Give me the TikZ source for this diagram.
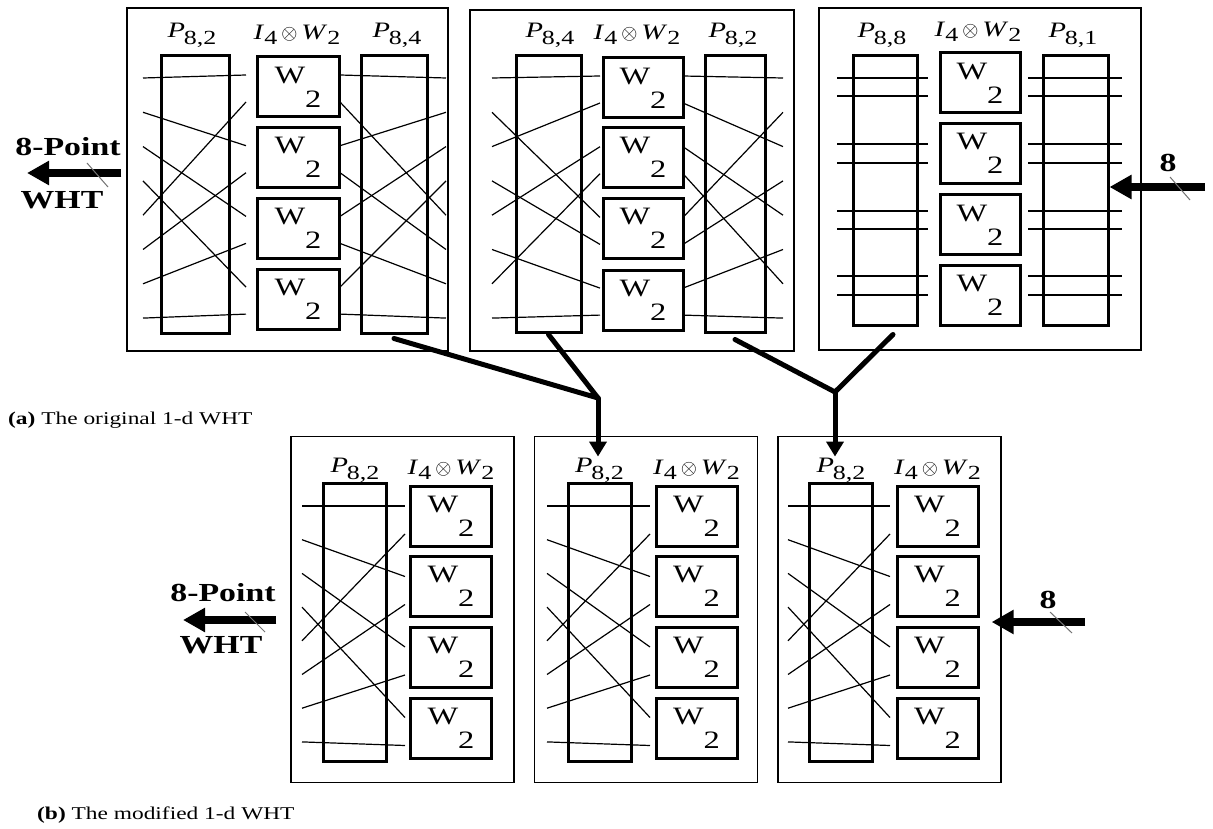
\documentclass[tikz,border=0pt]{standalone}
\usepackage{fontspec}
\setmainfont{Liberation Serif}[FakeStretch=1.3]
\usepackage{tikz}
\usetikzlibrary{arrows.meta,calc}

\newcommand{\Plab}[1]{\textit{P}\kern-1pt\raisebox{-7pt}{\fontsize{20}{20}\selectfont #1}}
\newcommand{\IWlab}{\textit{I}\raisebox{-5pt}{\fontsize{20}{20}\selectfont 4}\kern4pt$\otimes$\kern4pt\textit{W}\raisebox{-5pt}{\fontsize{20}{20}\selectfont 2}}
\newcommand{\Wtwo}{W\raisebox{-24pt}{2}}
\def\mapA{0/0,1/2,2/4,3/6,4/1,5/3,6/5,7/7}
\def\mapB{0/0,1/4,2/1,3/5,4/2,5/6,6/3,7/7}

\tikzset{
  frame/.style={draw, line width=1.3pt, inner sep=0pt},
  permbox/.style={draw, line width=3pt, minimum width=64pt, minimum height=277pt, inner sep=0pt},
  wbox/.style={draw, line width=3pt, minimum width=81pt, minimum height=60pt, inner sep=0pt, font=\fontsize{25}{25}\selectfont},
  lab/.style={inner sep=1pt, font=\fontsize{22}{22}\selectfont},
  wire/.style={line width=1.2pt},
  bus/.style={line width=5pt, line cap=round, line join=round},
  io/.style={line width=7.5pt, -{Triangle[length=22pt,width=23pt]}},
  tick/.style={line width=1pt, black!55},
  bigtxt/.style={inner sep=0pt, font=\fontsize{26}{26}\selectfont\bfseries},
  captxt/.style={inner sep=0pt, font=\fontsize{18}{18}\selectfont},
}

\begin{document}
\begin{tikzpicture}[x=1pt, y=-1pt]
\useasboundingbox (0,0) rectangle (1213,829);

% (a) first stage
\node[frame, minimum width=321pt, minimum height=343pt] (pa) at (287.5,179.5) {};
\node[lab] (pal1) at (192,35) {\Plab{8,2}};
\node[lab] (pal2) at (297,35) {\IWlab};
\node[lab] (pal3) at (397,35) {\Plab{8,4}};
\node[permbox, minimum width=68pt] (pa1) at (195,194.5) {};
\node[permbox, minimum width=66pt] (pa2) at (394,194.5) {};
\foreach \k/\y in {1/87,2/157.5,3/228.5,4/299}
  \node[wbox, minimum width=82pt] (paw\k) at (298,\y) {\Wtwo};
\foreach \o/\n in \mapA {
  \draw[wire] (143,78+34.3*\o) -- (246,{75+70.7*floor(\n/2)+27*mod(\n,2)});
  \draw[wire] (340,{75+70.7*floor(\n/2)+27*mod(\n,2)}) -- (446,78+34.3*\o);
}

% (a) second stage
\node[frame, minimum width=324pt, minimum height=341pt] (pb) at (632,180.5) {};
\node[lab] (pbl1) at (550,35) {\Plab{8,4}};
\node[lab] (pbl2) at (637,35) {\IWlab};
\node[lab] (pbl3) at (733,35) {\Plab{8,2}};
\node[permbox, minimum width=65pt, minimum height=276pt] (pb1) at (548.5,194) {};
\node[permbox, minimum width=60pt, minimum height=276pt] (pb2) at (735,194) {};
\foreach \k/\y in {1/88,2/157.5,3/228.5,4/300}
  \node[wbox, minimum width=80pt] (pbw\k) at (643,\y) {\Wtwo};
\foreach \o/\n in \mapB {
  \draw[wire] (492,78+34.3*\o) -- (600,{76+70.7*floor(\n/2)+27*mod(\n,2)});
  \draw[wire] (683,{76+70.7*floor(\n/2)+27*mod(\n,2)}) -- (783,78+34.3*\o);
}

% (a) third stage
\node[frame, minimum width=322pt, minimum height=342pt] (pc) at (980,179) {};
\node[lab] (pcl1) at (882,35) {\Plab{8,8}};
\node[lab] (pcl2) at (978,32) {\IWlab};
\node[lab] (pcl3) at (1073,35) {\Plab{8,1}};
\node[permbox, minimum height=269pt] (pc1) at (885,190.5) {};
\node[permbox, minimum width=65pt, minimum height=269pt] (pc2) at (1075.5,190.5) {};
\foreach \k/\y in {1/83,2/153.5,3/225,4/295.5}
  \node[wbox, minimum width=80pt] (pcw\k) at (980,\y) {\Wtwo};
\foreach \y in {78,96,144,163,211,229,276,295} {
  \draw[wire] (837,\y) -- (928,\y);
  \draw[wire] (1028,\y) -- (1122,\y);
}

% input and output of (a)
\coordinate (inA) at (1205,187);
\coordinate (outA) at (27,173);
\draw[io] (inA) -- (pc2.east |- inA);
\draw[io] ($(pa.west |- outA)+(-5,0)$) -- (outA);
\draw[tick] (1170,177) -- (1190,200);
\draw[tick] (87,163) -- (108,187);
\node[bigtxt] (nA) at (1168,163) {8};
\node[bigtxt] (ptA) at (68,147) {8-Point};
\node[bigtxt] (whtA) at (62,200) {WHT};
\node[captxt, anchor=west] (capa) at (8,420) {\textbf{(a)} The original 1-d WHT};

% (b) three equal stages
\foreach \s/\cx/\px/\wx/\ox/\ix in {a/402.5/355/451/302/405, b/646/599.5/696.5/547/650, c/889.5/841/937.5/788/890} {
  \node[frame, minimum width=223pt, minimum height=346pt] (q\s) at (\cx,609.5) {};
  \node[lab] (q\s l) at (\px,470) {\Plab{8,2}};
  \node[lab] (q\s m) at (\wx,470) {\IWlab};
  \node[permbox, minimum width=63pt, minimum height=278pt] (q\s1) at (\px,622) {};
  \foreach \k/\y in {1/516.5,2/586.5,3/657.5,4/728}
    \node[wbox] (q\s w\k) at (\wx,\y) {\Wtwo};
  \foreach \o/\n in \mapA
    \draw[wire] (\ox,506+33.7*\o) -- (\ix,{506+70.5*floor(\n/2)+28*mod(\n,2)});
}

% merging the stages
\coordinate (j1) at (598,398);
\coordinate (j2) at (835,392);
\draw[bus] ([yshift=-4pt]pa2.south) -- (j1) -- ([yshift=-1pt]pb1.south);
\draw[bus] ([yshift=-6pt]pb2.south) -- (j2) -- ([xshift=8pt,yshift=-8pt]pc1.south);
\draw[bus, -{Triangle[length=15pt,width=17pt]}] (j1) -- (j1 |- qbl.north);
\draw[bus, -{Triangle[length=15pt,width=17pt]}] (j2) -- (j2 |- qcl.north);

% input and output of (b)
\coordinate (inB) at (1085,622);
\coordinate (outB) at (183,620);
\draw[io] (inB) -- ($(qc.east |- inB)+(-10,0)$);
\draw[io] ($(qa.west |- outB)+(-14,0)$) -- (outB);
\draw[tick] (1050,612) -- (1072,633);
\draw[tick] (245,612) -- (265,632);
\node[bigtxt] (nB) at (1048,600) {8};
\node[bigtxt] (ptB) at (223,593) {8-Point};
\node[bigtxt] (whtB) at (221,645) {WHT};
\node[captxt, anchor=west] (capb) at (37,815) {\textbf{(b)} The modified 1-d WHT};
\end{tikzpicture}
\end{document}
